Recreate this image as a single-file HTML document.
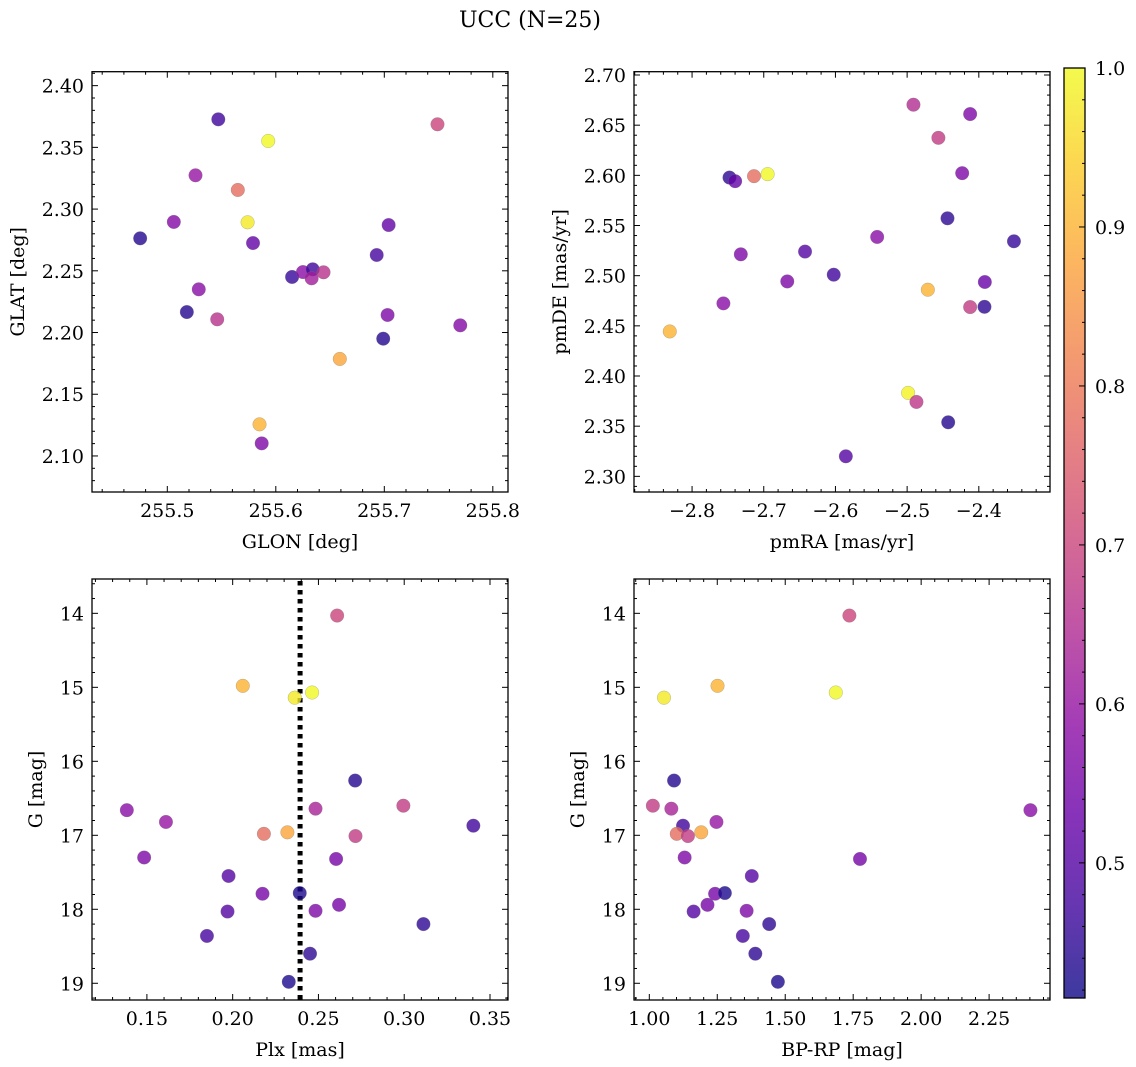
<!DOCTYPE html>
<html><head><meta charset="utf-8"><style>
html,body{margin:0;padding:0;background:#fff;}
svg{display:block;font-family:"DejaVu Serif","Liberation Serif",serif;}
</style></head><body>
<svg id="fig" width="1136" height="1067" viewBox="0 0 1136 1067" xmlns="http://www.w3.org/2000/svg">
<text x="530" y="27" font-size="22" text-anchor="middle">UCC (N=25)</text>
</svg>
<script>
// ---- data: top-left (GLON vs GLAT)
const glon=[255.547,255.749,255.593,255.526,255.565,255.506,255.574,255.704,255.475,255.579,255.693,255.615,255.625,255.634,255.633,255.644,255.529,255.518,255.546,255.703,255.770,255.699,255.659,255.585,255.587];
const glat=[2.3727,2.3687,2.3552,2.3274,2.3155,2.2896,2.2893,2.2871,2.2763,2.2725,2.2628,2.2450,2.2490,2.2512,2.2439,2.2488,2.2350,2.2166,2.2107,2.2142,2.2058,2.1950,2.1786,2.1256,2.1102];
const probTL=[0.47,0.70,1.0,0.60,0.78,0.57,0.98,0.52,0.44,0.52,0.48,0.46,0.58,0.47,0.62,0.66,0.58,0.44,0.66,0.56,0.57,0.44,0.88,0.90,0.56];
// ---- data: top-right (pmRA vs pmDE)
const pmra=[-2.4912,-2.4121,-2.4564,-2.4232,-2.7478,-2.7399,-2.7136,-2.6946,-2.4437,-2.5418,-2.3510,-2.7320,-2.6424,-2.6024,-2.6672,-2.3916,-2.4711,-2.7563,-2.4121,-2.3921,-2.8311,-2.4986,-2.4870,-2.4427,-2.5855];
const pmde=[2.6704,2.6611,2.6374,2.6022,2.5978,2.5942,2.5992,2.6012,2.5572,2.5386,2.5343,2.5213,2.5240,2.5010,2.4943,2.4937,2.4860,2.4724,2.4687,2.4690,2.4444,2.3832,2.3742,2.3539,2.3200];
const probTR=[0.65,0.56,0.68,0.56,0.45,0.52,0.78,1.0,0.45,0.58,0.46,0.56,0.50,0.47,0.56,0.53,0.90,0.58,0.68,0.45,0.90,0.99,0.67,0.44,0.50];
// ---- data: bottom panels (per star)
const plx=[0.2609,0.2059,0.2463,0.2362,0.2714,0.2995,0.2483,0.1383,0.3403,0.1611,0.2182,0.2319,0.2716,0.1484,0.2603,0.1976,0.2174,0.2391,0.2620,0.1970,0.2483,0.3112,0.1850,0.2451,0.2327];
const gmag=[14.03,14.98,15.07,15.14,16.26,16.60,16.64,16.66,16.87,16.82,16.98,16.96,17.01,17.30,17.32,17.55,17.79,17.78,17.94,18.03,18.02,18.20,18.36,18.60,18.98];
const bprp=[1.736,1.251,1.686,1.054,1.091,1.013,1.081,2.402,1.124,1.247,1.101,1.191,1.142,1.130,1.775,1.377,1.242,1.278,1.214,1.163,1.358,1.441,1.344,1.390,1.473];
const probB=[0.70,0.90,1.0,0.98,0.44,0.68,0.63,0.58,0.47,0.60,0.78,0.88,0.68,0.56,0.55,0.50,0.55,0.43,0.55,0.50,0.56,0.45,0.48,0.45,0.43];
const plxMedian=0.2393;
const cbTicks=[0.5,0.6,0.7,0.8,0.9,1.0];
const vmin=0.415, vmax=1.0;

const NS="http://www.w3.org/2000/svg";
const svg=document.getElementById('fig');
const FS=19;
function el(tag,attrs,parent){const e=document.createElementNS(NS,tag);for(const k in attrs)e.setAttribute(k,attrs[k]);(parent||svg).appendChild(e);return e;}
const stops=[[13,8,135],[65,4,157],[106,0,168],[143,13,164],[177,42,144],[204,71,120],[225,100,98],[242,132,75],[252,166,54],[252,206,37],[240,249,33]];
function plasma(v){let t=(v-vmin)/(vmax-vmin);t=Math.max(0,Math.min(1,t));const f=t*10,i=Math.min(9,Math.floor(f)),r=f-i;const a=stops[i],b=stops[i+1];return 'rgb('+[0,1,2].map(k=>Math.round(a[k]+(b[k]-a[k])*r)).join(',')+')';}
function fmt(v,d){const s=Math.abs(v).toFixed(d);return (v<0?'\u2212':'')+s;}

function panel(cfg){
  const g=el('g',{});
  
  
  const {x0,x1,y0,y1}=cfg;
  const sx=v=>x0+(v-cfg.xd[0])/(cfg.xd[1]-cfg.xd[0])*(x1-x0);
  const sy=cfg.invert? (v=>y0+(v-cfg.yd[0])/(cfg.yd[1]-cfg.yd[0])*(y1-y0)) : (v=>y1-(v-cfg.yd[0])/(cfg.yd[1]-cfg.yd[0])*(y1-y0));
  const ylo=Math.min(cfg.yd[0],cfg.yd[1]), yhi=Math.max(cfg.yd[0],cfg.yd[1]);
  const tk=el('g',{stroke:'#000','stroke-width':1},g);
  
  
  for(let k=Math.ceil(cfg.xd[0]/cfg.xmin-1e-6);k*cfg.xmin<=cfg.xd[1]+1e-9;k++){const v=k*cfg.xmin;const px=sx(v);const major=Math.abs(v/cfg.xmaj-Math.round(v/cfg.xmaj))<1e-6;const L=major?6:3;
    el('line',{x1:px,x2:px,y1:y1,y2:y1-L},tk);el('line',{x1:px,x2:px,y1:y0,y2:y0+L},tk);}
  for(let k=Math.ceil(ylo/cfg.ymin-1e-6);k*cfg.ymin<=yhi+1e-9;k++){const v=k*cfg.ymin;const py=sy(v);const major=Math.abs(v/cfg.ymaj-Math.round(v/cfg.ymaj))<1e-6;const L=major?6:3;
    el('line',{x1:x0,x2:x0+L,y1:py,y2:py},tk);el('line',{x1:x1,x2:x1-L,y1:py,y2:py},tk);}
  cfg.xticks.forEach(v=>{const t=el('text',{x:sx(v),y:y1+25,'font-size':FS,'text-anchor':'middle'},g);t.textContent=fmt(v,cfg.xdec);
    });
  cfg.yticks.forEach(v=>{const t=el('text',{x:x0-8,y:sy(v)+7,'font-size':FS,'text-anchor':'end'},g);t.textContent=fmt(v,cfg.ydec);
    });
  const xl=el('text',{x:(x0+x1)/2,y:y1+56,'font-size':FS,'text-anchor':'middle'},g);xl.textContent=cfg.xlabel;
  
  const yl=el('text',{x:cfg.ylx,y:(y0+y1)/2,'font-size':FS,'text-anchor':'middle',transform:'rotate(-90 '+cfg.ylx+' '+(y0+y1)/2+')'},g);yl.textContent=cfg.ylabel;
  
  if(cfg.vline!==undefined){const l=el('line',{x1:sx(cfg.vline),x2:sx(cfg.vline),y1:y0+2,y2:y1,stroke:'#000','stroke-width':5,'stroke-dasharray':'4.5 4.5'},g);
    }
  const pts=el('g',{},g);
  
  cfg.xs.forEach((xv,i)=>{const c=el('circle',{cx:sx(xv),cy:sy(cfg.ys[i]),r:6.8,fill:plasma(cfg.ps[i]),'fill-opacity':0.8,stroke:'#777','stroke-opacity':0.5,'stroke-width':0.5},pts);
    });
  const fr=el('rect',{x:x0,y:y0,width:x1-x0,height:y1-y0,fill:'none',stroke:'#000','stroke-width':1.3},g);
  
}

panel({name:'glon-glat-panel',x0:92,x1:508,y0:71.7,y1:492,xd:[255.4306,255.814],yd:[2.0708,2.4113],xmaj:0.1,xmin:0.02,ymaj:0.05,ymin:0.01,
  xticks:[255.5,255.6,255.7,255.8],xdec:1,yticks:[2.10,2.15,2.20,2.25,2.30,2.35,2.40],ydec:2,xlabel:'GLON [deg]',ylabel:'GLAT [deg]',ylx:24,xs:glon,ys:glat,ps:probTL});
panel({name:'pm-panel',x0:634,x1:1050,y0:71.7,y1:492,xd:[-2.881,-2.3007],yd:[2.2844,2.7033],xmaj:0.1,xmin:0.02,ymaj:0.05,ymin:0.01,
  xticks:[-2.8,-2.7,-2.6,-2.5,-2.4],xdec:1,yticks:[2.30,2.35,2.40,2.45,2.50,2.55,2.60,2.65,2.70],ydec:2,xlabel:'pmRA [mas/yr]',ylabel:'pmDE [mas/yr]',ylx:566,xs:pmra,ys:pmde,ps:probTR});
panel({name:'plx-g-panel',x0:92,x1:508,y0:579,y1:1000,xd:[0.118,0.3605],yd:[13.536,19.226],invert:true,xmaj:0.05,xmin:0.01,ymaj:1,ymin:0.2,
  xticks:[0.15,0.20,0.25,0.30,0.35],xdec:2,yticks:[14,15,16,17,18,19],ydec:0,xlabel:'Plx [mas]',ylabel:'G [mag]',ylx:42,xs:plx,ys:gmag,ps:probB,vline:plxMedian});
panel({name:'cmd-panel',x0:634,x1:1050,y0:579,y1:1000,xd:[0.9437,2.474],yd:[13.536,19.226],invert:true,xmaj:0.25,xmin:0.05,ymaj:1,ymin:0.2,
  xticks:[1.00,1.25,1.50,1.75,2.00,2.25],xdec:2,yticks:[14,15,16,17,18,19],ydec:0,xlabel:'BP-RP [mag]',ylabel:'G [mag]',ylx:584,xs:bprp,ys:gmag,ps:probB});

const cb=el('g',{});


const defs=el('defs',{},cb);
const lg=el('linearGradient',{id:'pl',x1:0,y1:1,x2:0,y2:0},defs);
for(let i=0;i<=20;i++){el('stop',{offset:(i/20),'stop-color':plasma(vmin+(vmax-vmin)*i/20),'stop-opacity':0.8},lg);}
const cbx0=1064,cbx1=1085,cby0=68,cby1=998;
const cyS=v=>cby1-(v-vmin)/(vmax-vmin)*(cby1-cby0);
el('rect',{x:cbx0,y:cby0,width:cbx1-cbx0,height:cby1-cby0,fill:'url(#pl)'},cb);
for(let k=Math.ceil(vmin/0.02);k*0.02<=vmax+1e-9;k++){const v=k*0.02;const major=Math.abs(v*10-Math.round(v*10))<1e-6;el('line',{x1:cbx1,x2:cbx1-(major?6:3),y1:cyS(v),y2:cyS(v),stroke:'#000','stroke-width':1},cb);}
cbTicks.forEach(v=>{const t=el('text',{x:cbx1+10,y:cyS(v)+7,'font-size':FS},cb);t.textContent=v.toFixed(1);
  });
el('rect',{x:cbx0,y:cby0,width:cbx1-cbx0,height:cby1-cby0,fill:'none',stroke:'#000','stroke-width':1.3},cb);
</script>
</body></html>
